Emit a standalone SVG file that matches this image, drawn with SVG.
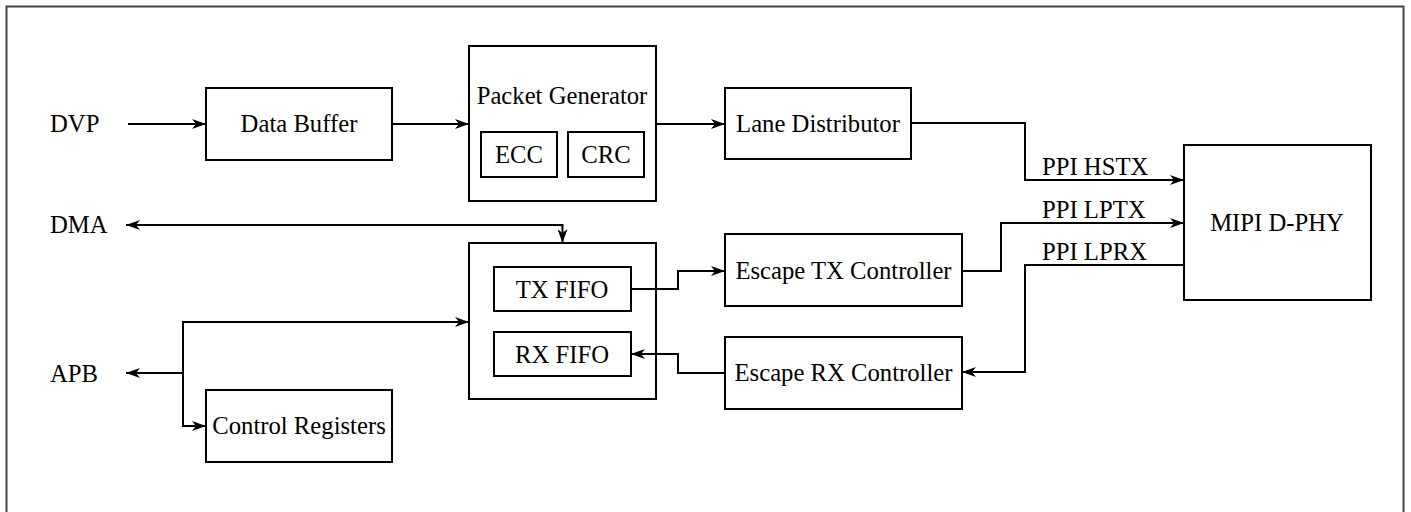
<svg xmlns="http://www.w3.org/2000/svg" width="1411" height="512" viewBox="0 0 1411 512" font-family="Liberation Serif, serif" font-size="24.7">
<style>
.box{fill:#fff;stroke:#000;stroke-width:2}
.m{text-anchor:middle}
.c{fill:none;stroke:#000;stroke-width:2}
</style>
<defs>
<marker id="ah" viewBox="0 0 14 10" refX="14" refY="5" markerWidth="14" markerHeight="10" markerUnits="userSpaceOnUse" orient="auto-start-reverse">
<path d="M0,0 L14,5 L0,10 L4,5 z" fill="#000"/>
</marker>
</defs>
<rect x="0" y="0" width="1411" height="512" fill="#fff"/>
<rect x="6.5" y="6.5" width="1397" height="530" fill="none" stroke="#444" stroke-width="2"/>

<g id="labels">
<text font-family="Liberation Serif" x="50" y="132">DVP</text>
<text font-family="Liberation Serif" x="50" y="233">DMA</text>
<text font-family="Liberation Serif" x="50" y="382">APB</text>
</g>

<g id="data-buffer"><rect class="box" x="206" y="88" width="186" height="72"/><text class="m" x="299" y="132">Data Buffer</text></g>
<g id="packet-generator">
<rect class="box" x="469" y="46" width="187" height="155"/>
<text class="m" x="562" y="104">Packet Generator</text>
<g id="ecc"><rect class="box" x="481" y="132" width="76" height="45"/><text class="m" x="519" y="163">ECC</text></g>
<g id="crc"><rect class="box" x="568" y="132" width="76" height="45"/><text class="m" x="606" y="163">CRC</text></g>
</g>
<g id="lane-distributor"><rect class="box" x="725" y="88" width="186" height="71"/><text class="m" x="818" y="132">Lane Distributor</text></g>
<g id="mipi-dphy"><rect class="box" x="1184" y="145" width="187" height="155"/><text class="m" x="1277" y="231">MIPI D-PHY</text></g>
<g id="fifo">
<rect class="box" x="469" y="243" width="187" height="156"/>
<g id="tx-fifo"><rect class="box" x="494" y="267" width="137" height="44"/><text class="m" x="562" y="298">TX FIFO</text></g>
<g id="rx-fifo"><rect class="box" x="494" y="332" width="137" height="44"/><text class="m" x="562" y="363">RX FIFO</text></g>
</g>
<g id="escape-tx"><rect class="box" x="725" y="234" width="237" height="72"/><text class="m" x="843.5" y="279">Escape TX Controller</text></g>
<g id="escape-rx"><rect class="box" x="725" y="337" width="237" height="72"/><text class="m" x="843.5" y="381">Escape RX Controller</text></g>
<g id="control-registers"><rect class="box" x="206" y="390" width="186" height="72"/><text class="m" x="299" y="434">Control Registers</text></g>

<g id="connectors">
<path class="c" d="M128,124 H206" marker-end="url(#ah)"/>
<path class="c" d="M392,124 H469" marker-end="url(#ah)"/>
<path class="c" d="M656,124 H725" marker-end="url(#ah)"/>
<path class="c" d="M911,123 H1025 V180 H1184" marker-end="url(#ah)"/>
<path class="c" d="M962,271 H1001 V223 H1184" marker-end="url(#ah)"/>
<path class="c" d="M1184,265 H1025 V372 H962" marker-end="url(#ah)"/>
<path class="c" d="M126,225 H562.5 V243" marker-start="url(#ah)" marker-end="url(#ah)"/>
<path class="c" d="M631,289 H678 V271 H725" marker-end="url(#ah)"/>
<path class="c" d="M725,373 H678 V354 H631" marker-end="url(#ah)"/>
<path class="c" d="M183,373 H126" marker-end="url(#ah)"/>
<path class="c" d="M469,322 H183 V426 H206" marker-start="url(#ah)" marker-end="url(#ah)"/>
</g>
<g id="connector-labels">
<text x="1042" y="175">PPI HSTX</text>
<text x="1042" y="218">PPI LPTX</text>
<text x="1042" y="260">PPI LPRX</text>
</g>
</svg>
